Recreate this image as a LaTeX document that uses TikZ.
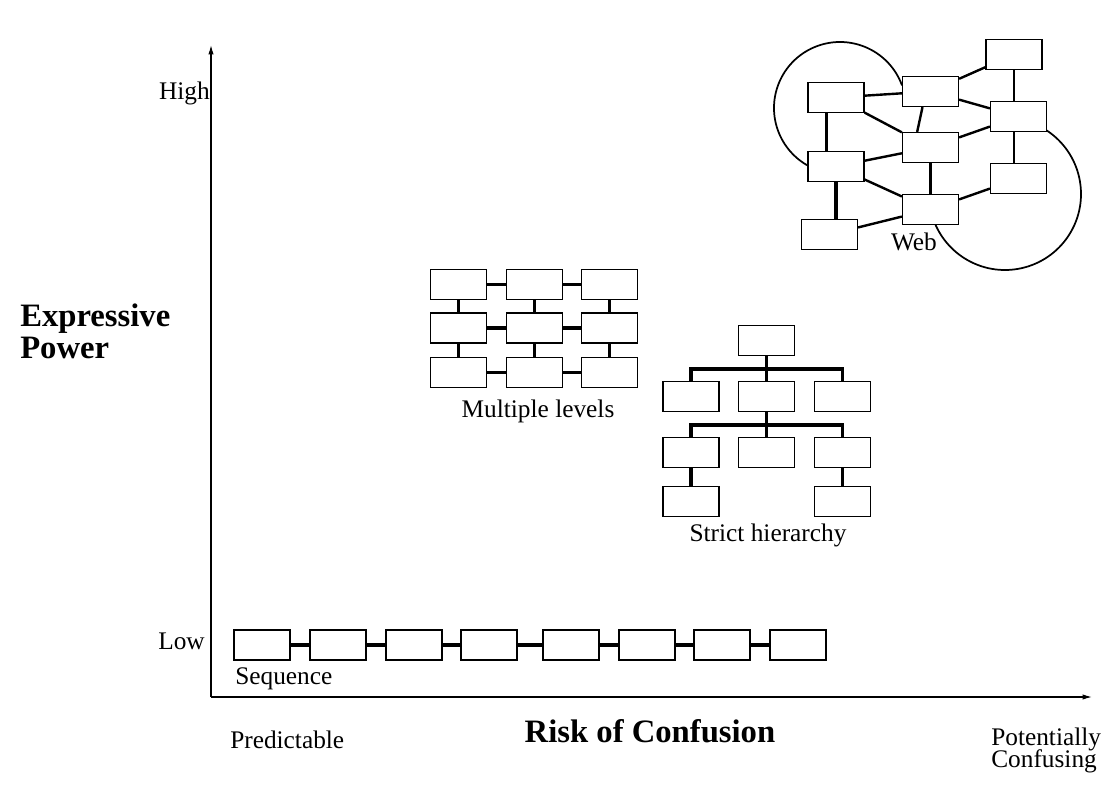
\documentclass[tikz,border=0pt]{standalone}
\usepackage{fontspec}
\setmainfont{Liberation Serif}
\usetikzlibrary{positioning,arrows.meta}
\tikzset{
  box/.style={draw, fill=white, minimum width=42pt, minimum height=22.5pt, inner sep=0pt, line width=0.9pt},
  link/.style={line width=1.8pt},
  bar/.style={line width=2.6pt},
  lbl/.style={font=\fontsize{19}{20}\selectfont, inner sep=0pt},
  big/.style={font=\fontsize{24.5}{24}\selectfont\bfseries, inner sep=0pt, align=left},
}
\begin{document}
\begin{tikzpicture}[x=0.75pt, y=-0.75pt]
  \useasboundingbox (0,0) rectangle (1115,795);

  % axes
  \coordinate (O) at (211,697);
  \coordinate (top) at (211,45);
  \coordinate (right) at (1092,697);
  \draw[-{Latex[length=7pt,width=4pt]}, line width=0.9pt] (O) -- (top);
  \draw[-{Latex[length=7pt,width=4pt]}, line width=0.9pt] (O) -- (right);

  \node[lbl, anchor=east] (high) at (210,93) {High};
  \node[lbl, anchor=east] (low)  at (205,641) {Low};
  \node[big, anchor=west] (power) at (20,331) {Expressive\\Power};
  \node[big] (risk) at (650,731) {Risk of Confusion};
  \node[lbl, anchor=west] (pred) at (230,740) {Predictable};
  \node[lbl, anchor=west, align=left] (conf) at (991,750) {Potentially\\[-3.5pt]Confusing};

  % sequence
  \foreach \i/\x in {1/262,2/338,3/414,4/489,5/571,6/647,7/722,8/798}
    \node[box] (s\i) at (\x,645) {};
  \foreach \i [evaluate=\i as \j using int(\i+1)] in {1,...,7}
    \draw[bar, line width=3pt] (s\i) -- (s\j);
  \node[lbl, anchor=west] (seq) at (235,679) {Sequence};

  % multiple levels
  \foreach \c/\x in {1/458.5,2/534.5,3/609.5}
    \foreach \r/\y in {1/284.5,2/328,3/372.5}
      \node[box] (m\r\c) at (\x,\y) {};
  \foreach \r in {1,2,3} {
    \draw[bar] (m\r1) -- (m\r2);
    \draw[bar] (m\r2) -- (m\r3);
    \draw[bar] (m1\r) -- (m2\r);
    \draw[bar] (m2\r) -- (m3\r);
  }
  \node[lbl] (multi) at (538,411) {Multiple levels};

  % strict hierarchy
  \node[box] (h0) at (766.5,340.5) {};
  \foreach \c/\x in {1/691,2/766.5,3/842.5} {
    \node[box] (h1\c) at (\x,396.5) {};
    \node[box] (h2\c) at (\x,452.5) {};
  }
  \node[box] (h31) at (691,501.5) {};
  \node[box] (h33) at (842.5,501.5) {};
  \coordinate (bus1) at (766.5,369);
  \coordinate (bus2) at (766.5,425);
  \draw[bar] (h0.south) -- (bus1);
  \draw[bar] (h11.north) |- (bus1) -| (h13.north);
  \draw[bar] (bus1) -- (h12.north);
  \draw[bar] (h12.south) -- (bus2);
  \draw[bar] (h21.north) |- (bus2) -| (h23.north);
  \draw[bar] (bus2) -- (h22.north);
  \draw[bar] (h21) -- (h31);
  \draw[bar] (h23) -- (h33);
  \node[lbl] (strict) at (768,535) {Strict hierarchy};

  % web
  \draw[line width=1.3pt] (840,108) ++(-20:66) arc [start angle=-20, end angle=-242, radius=66];
  \draw[line width=1.3pt] (1005,194) ++(-60:76) arc [start angle=-60, end angle=160, radius=76];
  \node[box] (wa) at (1014,54.5) {};
  \node[box] (wb) at (930.5,91.5) {};
  \node[box] (wc) at (836,97.5) {};
  \node[box] (wd) at (1018.5,116.5) {};
  \node[box] (we) at (930.5,147.5) {};
  \node[box] (wf) at (836,166.5) {};
  \node[box] (wg) at (1018.5,178.5) {};
  \node[box] (wh) at (930.5,209.5) {};
  \node[box] (wi) at (829.5,234.5) {};
  \draw[link] (wb) -- (wa);
  \draw[link] (wc) -- (wb);
  \draw[link] (wb) -- (wd);
  \draw[link] ([xshift=-6pt]wb.south) -- ([xshift=-10pt]we.north);
  \draw[link] (wc) -- (we);
  \draw[link] ([xshift=-7pt]wc.south) -- ([xshift=-7pt]wf.north);
  \draw[link] (wf) -- (we);
  \draw[link] (we) -- (wd);
  \draw[link] (wa) -- (wa |- wd.north);
  \draw[link] (wd.south -| wa) -- (wa |- wg.north);
  \draw[link] (we) -- (wh);
  \draw[link] (wf) -- (wh);
  \draw[link] (wg) -- (wh);
  \draw[bar] (wf) -- (wf |- wi.north);
  \draw[link] (wi) -- (wh);
  \node[lbl] (web) at (914,242) {Web};
\end{tikzpicture}
\end{document}
